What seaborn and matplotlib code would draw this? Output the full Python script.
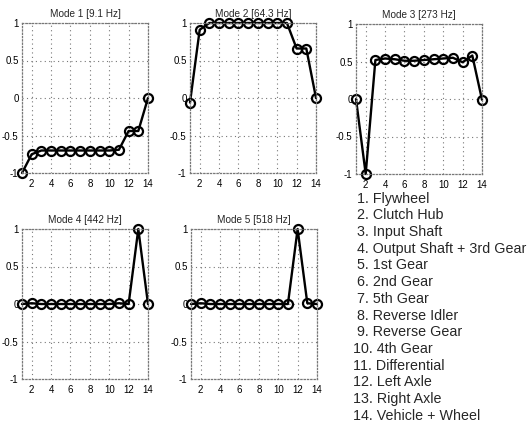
import numpy as np
import pandas as pd
import matplotlib
matplotlib.use("Agg")
import matplotlib.pyplot as plt
import seaborn as sns

dof = list(range(1, 15))
mode1 = [-1.0, -0.75, -0.70, -0.70, -0.70, -0.70, -0.70, -0.70, -0.70, -0.70, -0.69, -0.44, -0.44, 0.0]
mode2 = [-0.06, 0.91, 1.0, 1.0, 1.0, 1.0, 1.0, 1.0, 1.0, 1.0, 1.0, 0.66, 0.66, 0.0]
mode3 = [0.0, -1.0, 0.52, 0.54, 0.53, 0.51, 0.51, 0.52, 0.53, 0.54, 0.55, 0.49, 0.58, -0.01]
mode4 = [0.0, 0.01, 0.0, 0.0, 0.0, 0.0, 0.0, 0.0, 0.0, 0.0, 0.01, 0.0, 1.0, 0.0]
mode5 = [0.0, 0.01, 0.0, 0.0, 0.0, 0.0, 0.0, 0.0, 0.0, 0.0, 0.0, 1.0, 0.01, 0.0]
titles = ["Mode 1 [9.1 Hz]", "Mode 2 [64.3 Hz]", "Mode 3 [273 Hz]",
          "Mode 4 [442 Hz]", "Mode 5 [518 Hz]"]
components = ["Flywheel", "Clutch Hub", "Input Shaft", "Output Shaft + 3rd Gear",
              "1st Gear", "2nd Gear", "5th Gear", "Reverse Idler", "Reverse Gear",
              "4th Gear", "Differential", "Left Axle", "Right Axle", "Vehicle + Wheel"]
xticks = [2, 4, 6, 8, 10, 12, 14]
yticks = [-1, -0.5, 0, 0.5, 1]
yticklabels = ["-1", "-0.5", "0", "0.5", "1"]

sns.set_theme(style="white")
plt.rcParams['font.family'] = ['Liberation Sans', 'DejaVu Sans']

W, H = 529, 426
fig = plt.figure(figsize=(W / 100, H / 100), dpi=100)

boxes = [(22, 23), (190, 23), (356, 24), (22, 229), (191, 229)]
bw, bh = 126, 150
modes = [mode1, mode2, mode3, mode4, mode5]

for (l, t), vals, title in zip(boxes, modes, titles):
    ax = fig.add_axes([l / W, 1 - (t + bh) / H, bw / W, bh / H])
    df = pd.DataFrame({"dof": dof, "val": vals})
    sns.lineplot(data=df, x="dof", y="val", ax=ax, color="black", linewidth=1.7,
                 marker="o", markersize=6.5, markerfacecolor="none",
                 markeredgecolor="black", markeredgewidth=1.6, clip_on=False)
    ax.set_xlim(1, 14)
    ax.set_ylim(-1, 1)
    ax.set_xticks(xticks)
    ax.set_xticklabels([str(v) for v in xticks])
    ax.set_yticks(yticks)
    ax.set_yticklabels(yticklabels)
    ax.grid(True, linestyle=(0, (1, 3)), color="#777777", linewidth=0.8)
    for sp in ax.spines.values():
        sp.set_linestyle(":")
        sp.set_color("#777777")
        sp.set_linewidth(0.9)
    ax.tick_params(axis="both", length=0, labelsize=7, colors="black")
    ax.tick_params(axis="x", pad=4)
    ax.tick_params(axis="y", pad=2.5)
    ax.set_xlabel("")
    ax.set_ylabel("")
    ax.set_title(title, fontsize=7.2, pad=4.5)

# component list
y0 = 198.5
dy = 16.72
for i, name in enumerate(components):
    y = 1 - (y0 + i * dy) / H
    label = f"{i + 1}. {name}" if i >= 9 else f" {i + 1}. {name}"
    fig.text(353 / W, y, label, ha="left", va="center", fontsize=10.3)

fig.savefig("out.png", dpi=100, facecolor="white")
